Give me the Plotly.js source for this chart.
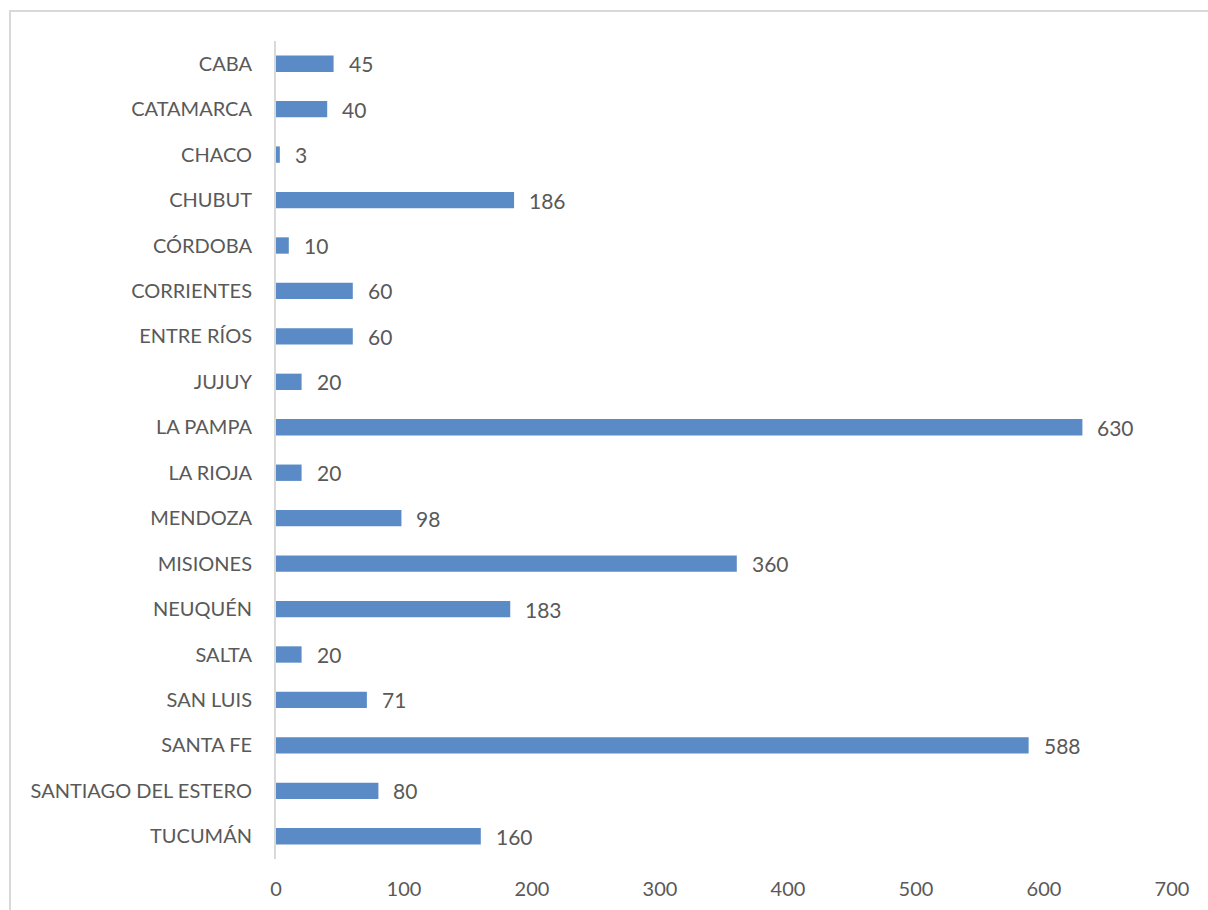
<!DOCTYPE html>
<html>
<head>
<meta charset="utf-8">
<script src="https://cdn.plot.ly/plotly-3.0.1.min.js"></script>
<style>html,body{margin:0;padding:0;background:#fff;}</style>
</head>
<body>
<div id="chart" style="width:1208px;height:910px;"></div>
<script>
const categories = ["CABA","CATAMARCA","CHACO","CHUBUT","CÓRDOBA","CORRIENTES","ENTRE RÍOS","JUJUY","LA PAMPA","LA RIOJA","MENDOZA","MISIONES","NEUQUÉN","SALTA","SAN LUIS","SANTA FE","SANTIAGO DEL ESTERO","TUCUMÁN"];
const values = [45,40,3,186,10,60,60,20,630,20,98,360,183,20,71,588,80,160];
const xTicks = [0,100,200,300,400,500,600,700];

const fontFam = "Lato, 'Open Sans', sans-serif";
const textColor = "#595959";

const trace = {
  type: "bar",
  orientation: "h",
  x: values,
  y: categories,
  marker: {color: "#5b8bc6"},
  hoverinfo: "x+y"
};

const annotations = values.map((v, i) => ({
  x: v, y: categories[i], xref: "x", yref: "y",
  text: String(v), showarrow: false, xanchor: "left", xshift: 13,
  font: {family: fontFam, size: 21, color: textColor}
}));

const layout = {
  width: 1208, height: 910,
  margin: {l: 276, r: 36, t: 41, b: 51},
  paper_bgcolor: "#fff", plot_bgcolor: "#fff",
  bargap: 0.64,
  showlegend: false,
  font: {family: fontFam, size: 20, color: textColor},
  xaxis: {
    range: [0, 700], tickvals: xTicks, ticktext: xTicks.map(String),
    showgrid: false, zeroline: false, showline: false, ticks: "",
    ticklabelstandoff: 16, tickfont: {family: fontFam, size: 20, color: textColor}
  },
  yaxis: {
    type: "category", autorange: "reversed",
    showgrid: false, zeroline: false, ticks: "",
    showline: true, linecolor: "#d9d9d9", linewidth: 2,
    ticklabelstandoff: 18, tickfont: {family: fontFam, size: 20, color: textColor}
  },
  annotations: annotations,
  shapes: [{
    type: "rect", xref: "paper", yref: "paper",
    x0: (10 - 276) / 896, x1: 1.2, y0: -0.2, y1: 1 + (41 - 11) / 818,
    line: {color: "#d9d9d9", width: 2}, fillcolor: "rgba(0,0,0,0)", layer: "below"
  }]
};

Plotly.newPlot("chart", [trace], layout, {displayModeBar: false, staticPlot: true});
</script>
</body>
</html>
